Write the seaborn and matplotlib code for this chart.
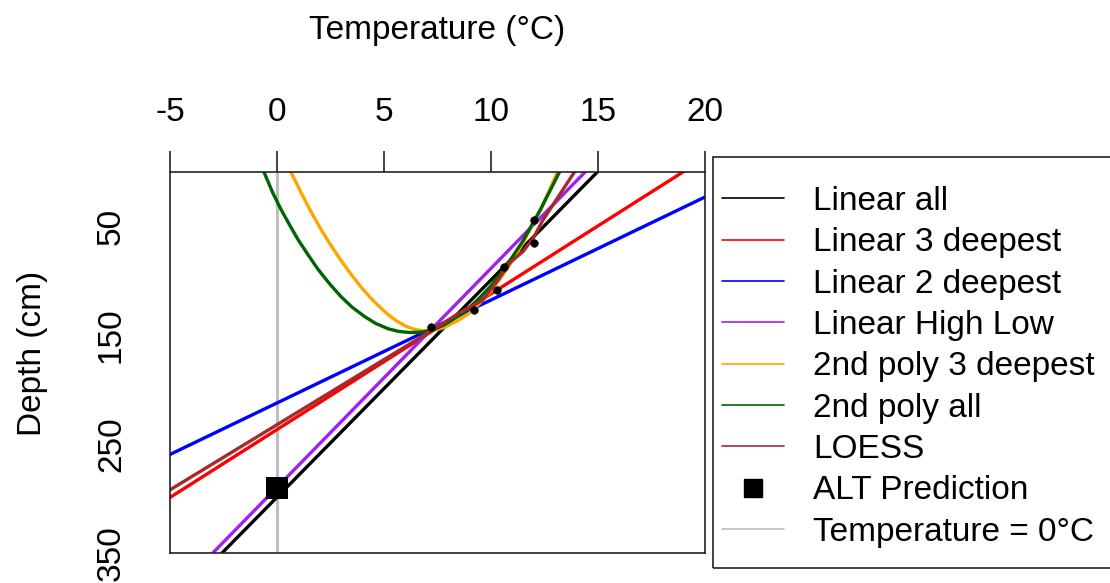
import matplotlib
matplotlib.use("Agg")
import matplotlib.pyplot as plt
import seaborn as sns
from matplotlib.lines import Line2D
from matplotlib.patches import Rectangle

# measured temperature profile
obs_temp = [12.0, 12.0, 10.6, 10.3, 9.2, 7.2]
obs_depth = [44, 65, 87, 108, 127, 142]

# linear fits: temperature at depth 0 and 350 cm
lin_depth = [0, 350]
lin_all = [14.97, -2.57]
lin_3deep = [18.97, -9.09]
lin_2deep = [22.43, -14.57]
lin_highlow = [14.4, -3.0]

# 2nd order polynomials (depth as function of temperature)
poly3_temp = [0.65, 1.1, 1.59, 2.05, 2.52, 3.0, 3.46, 3.9, 4.39, 4.8, 5.19, 5.6, 6.0, 6.4,
              6.85, 7.3, 7.8, 8.5, 9.0, 9.5, 10.0, 10.5, 11.0, 11.5, 11.9, 12.3, 12.7, 13.1]
poly3_depth = [0, 18, 36.5, 52.5, 67.5, 81.5, 94, 105, 116, 124, 131, 137, 141.5, 144.5,
               146, 145.5, 143, 136, 129.5, 120, 109.5, 96, 81.5, 65, 50, 35, 18, 0]
polyall_temp = [-0.61, -0.2, 0.19, 0.6, 0.98, 1.45, 1.92, 2.45, 2.99, 3.5, 4.07, 4.6, 5.19,
                5.7, 6.25, 6.8, 7.3, 7.8, 8.5, 9.0, 9.5, 10.0, 10.5, 11.0, 11.5, 11.9,
                12.3, 12.75, 13.2]
polyall_depth = [0, 19, 34.5, 49, 62, 76, 89.5, 102.5, 114.5, 124, 132.5, 139, 144,
                 146.5, 147.5, 147, 145, 140.5, 132, 124.5, 115, 104.5, 92, 78, 63, 49,
                 35, 17.5, 0]

# loess curve
loess_temp = [-5, 7.2, 8.6, 9.6, 10.3, 10.9, 11.5, 12.0, 12.4, 13.1, 13.9]
loess_depth = [292, 146, 128.5, 118, 100, 83, 73, 60, 45, 24, 0]

# active layer thickness prediction
alt_temp = [0]
alt_depth = [290]

depth_ticks = [0, 50, 100, 150, 200, 250, 300, 350]
depth_labels = ["", "50", "", "150", "", "250", "", "350"]
temp_ticks = [-5, 0, 5, 10, 15, 20]

legend_labels = ["Linear all", "Linear 3 deepest", "Linear 2 deepest", "Linear High Low",
                 "2nd poly 3 deepest", "2nd poly all", "LOESS", "ALT Prediction",
                 "Temperature = 0°C"]
cols = ["black", "#FF0000", "#0000FF", "#A020F0", "#FFA500", "#006400", "#A52A2A"]

sns.set_style("white")
plt.rcParams['font.family'] = ['Liberation Sans', 'DejaVu Sans']
plt.rcParams['axes.unicode_minus'] = False
plt.rcParams['text.color'] = 'black'
plt.rcParams['axes.labelcolor'] = 'black'
plt.rcParams['xtick.color'] = 'black'
plt.rcParams['ytick.color'] = 'black'

fig = plt.figure(figsize=(11.1, 5.83), dpi=100)
ax = fig.add_axes([170/1110, 1-553/583, 535/1110, 381/583])

ax.axvline(0, color="#BEBEBE", lw=2.2, zorder=1)

lines = [(lin_all, lin_depth), (lin_3deep, lin_depth), (lin_2deep, lin_depth),
         (lin_highlow, lin_depth), (poly3_temp, poly3_depth),
         (polyall_temp, polyall_depth), (loess_temp, loess_depth)]
for (xs, ys), c in zip(lines, cols):
    sns.lineplot(x=xs, y=ys, color=c, lw=2.4, sort=False, estimator=None, ax=ax, zorder=2)

sns.scatterplot(x=obs_temp, y=obs_depth, color="black", s=30, marker="o",
                edgecolor="black", ax=ax, zorder=3)
sns.scatterplot(x=alt_temp, y=alt_depth, color="black", s=230, marker="s",
                edgecolor="black", linewidth=0, ax=ax, zorder=4)

ax.set_xlim(-5, 20)
ax.set_ylim(350, 0)
ax.xaxis.tick_top()
ax.xaxis.set_label_position("top")
ax.set_xticks(temp_ticks)
ax.set_yticks(depth_ticks)
ax.set_yticklabels(depth_labels, rotation=90, va="center")
ax.tick_params(axis="both", length=15, width=1.2, color="#222222", labelsize=24)
ax.tick_params(axis="x", pad=17)
ax.tick_params(axis="y", pad=16)
for sp in ax.spines.values():
    sp.set_color("#222222")
    sp.set_linewidth(1.2)

ax.set_xlabel("Temperature (°C)", fontsize=24)
ax.xaxis.label.set_va("center")
ax.xaxis.set_label_coords(0.5, (553-31)/381)
ax.set_ylabel("Depth (cm)", fontsize=24)
ax.yaxis.label.set_va("center")
ax.yaxis.set_label_coords((33-170)/535, (553-353)/381)

handles = [Line2D([], [], color=c, lw=1.2) for c in cols]
handles.append(Line2D([], [], ls="none", marker="s", color="black", ms=13))
handles.append(Line2D([], [], color="#BEBEBE", lw=1.2))
fig.legend(handles, legend_labels, loc="upper left", bbox_to_anchor=(722/1110, 1-186/583),
           frameon=False, fontsize=24, borderpad=0, borderaxespad=0,
           handlelength=1.85, handletextpad=0.88, labelspacing=0.31)
fig.patches.append(Rectangle((713/1110, 1-568/583), 420/1110, 411/583,
                             transform=fig.transFigure, fill=False,
                             edgecolor="#222222", lw=1.2))

fig.savefig("out.png", dpi=100)
